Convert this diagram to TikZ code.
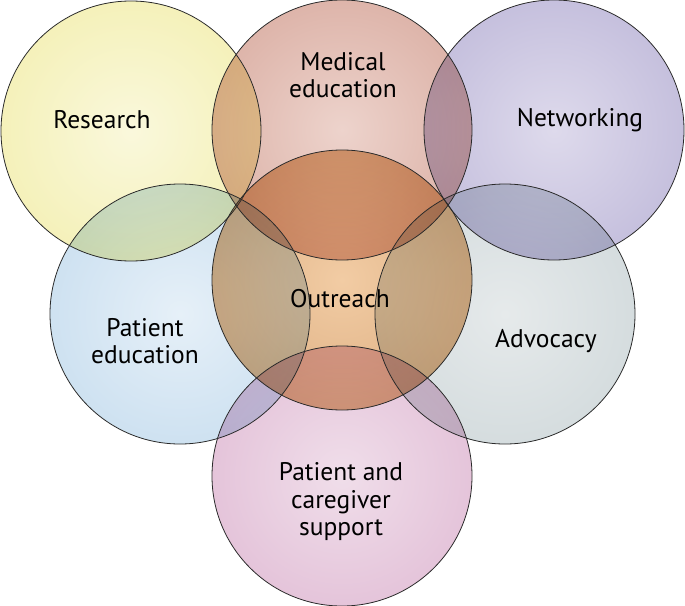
\documentclass[tikz,border=0pt]{standalone}
\usepackage{fontspec}
\setmainfont{PT Sans}
\definecolor{resIn}{HTML}{FAF8DC}\definecolor{resOut}{HTML}{EFEA98}
\definecolor{medIn}{HTML}{EDD3CC}\definecolor{medOut}{HTML}{CE9688}
\definecolor{netIn}{HTML}{DEDAEC}\definecolor{netOut}{HTML}{ADA6CF}
\definecolor{pedIn}{HTML}{E6F0F8}\definecolor{pedOut}{HTML}{B6D3EA}
\definecolor{advIn}{HTML}{E6EAEB}\definecolor{advOut}{HTML}{C4CFD2}
\definecolor{supIn}{HTML}{F0DEEA}\definecolor{supOut}{HTML}{D9AACA}
\definecolor{outIn}{HTML}{F2CCA4}\definecolor{outOut}{HTML}{CC9868}
\definecolor{rim}{HTML}{2A2A2A}
\pgfdeclareradialshading{shRes}{\pgfpoint{0bp}{0bp}}{color(0bp)=(resIn); color(50bp)=(resOut)}
\pgfdeclareradialshading{shMed}{\pgfpoint{0bp}{0bp}}{color(0bp)=(medIn); color(50bp)=(medOut)}
\pgfdeclareradialshading{shNet}{\pgfpoint{0bp}{0bp}}{color(0bp)=(netIn); color(50bp)=(netOut)}
\pgfdeclareradialshading{shPed}{\pgfpoint{0bp}{0bp}}{color(0bp)=(pedIn); color(50bp)=(pedOut)}
\pgfdeclareradialshading{shAdv}{\pgfpoint{0bp}{0bp}}{color(0bp)=(advIn); color(50bp)=(advOut)}
\pgfdeclareradialshading{shSup}{\pgfpoint{0bp}{0bp}}{color(0bp)=(supIn); color(50bp)=(supOut)}
\pgfdeclareradialshading{shOut}{\pgfpoint{0bp}{0bp}}{color(0bp)=(outIn); color(50bp)=(outOut)}
\tikzset{
  rimline/.style={draw=rim, line width=0.8bp},
  lbl/.style={font=\fontsize{25.5bp}{27.5bp}\selectfont, align=center, text=black, inner sep=0pt}
}
\begin{document}
\begin{tikzpicture}[x=1bp,y=-1bp]
\useasboundingbox (0,0) rectangle (685,606);
\fill[white] (0,0) rectangle (685,606);
\coordinate (cRes) at (131,131);
\coordinate (cMed) at (342,130);
\coordinate (cNet) at (554,130);
\coordinate (cPed) at (180,314);
\coordinate (cAdv) at (505,314);
\coordinate (cOut) at (342,280);
\coordinate (cSup) at (342,476);
\begin{scope}[blend group=multiply]
  \shade[shading=shRes] (cRes) circle[radius=130bp];
  \shade[shading=shMed] (cMed) circle[radius=130bp];
  \shade[shading=shNet] (cNet) circle[radius=130bp];
  \shade[shading=shPed] (cPed) circle[radius=130bp];
  \shade[shading=shAdv] (cAdv) circle[radius=130bp];
  \shade[shading=shSup] (cSup) circle[radius=130bp];
  \shade[shading=shOut] (cOut) circle[radius=130bp];
\end{scope}
\foreach \c in {cRes,cMed,cNet,cPed,cAdv,cSup,cOut}
  \draw[rimline] (\c) circle[radius=130bp];
\node[lbl] (tRes) at (102,120) {Research};
\node[lbl] (tMed) at (343,75) {Medical\\education};
\node[lbl] (tNet) at (580,120) {Networking};
\node[lbl] (tOut) at (340,299) {Outreach};
\node[lbl] (tPed) at (145,341) {Patient\\education};
\node[lbl] (tAdv) at (546,341) {Advocacy};
\node[lbl] (tSup) at (341,502) {Patient and\\caregiver\\support};
\end{tikzpicture}
\end{document}
